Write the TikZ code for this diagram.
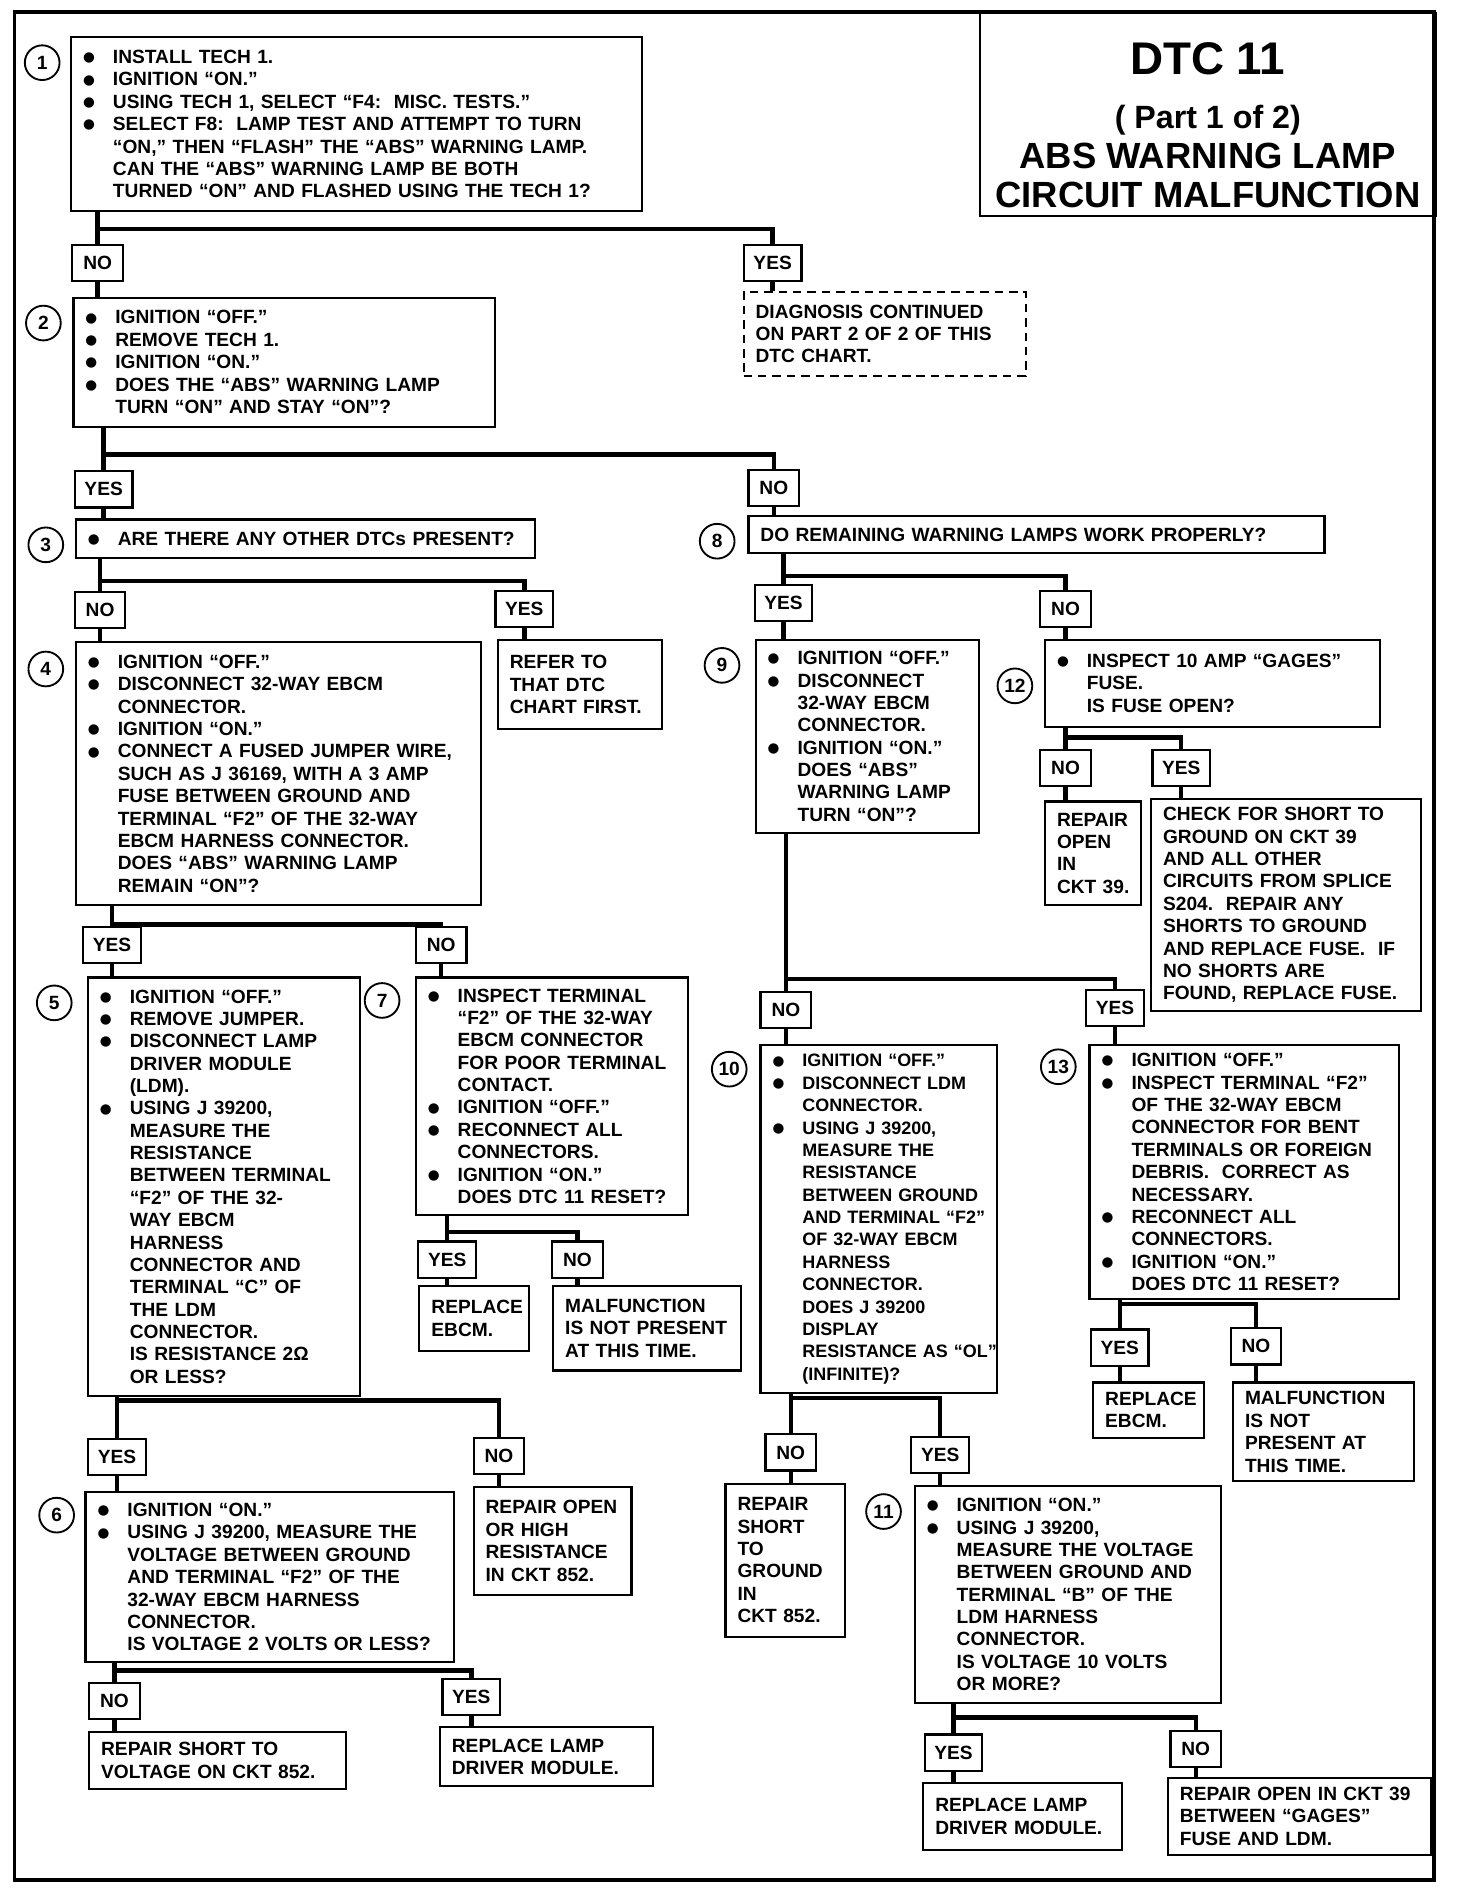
\documentclass[tikz,border=0pt]{standalone}
\usepackage{fontspec}
\setmainfont{Liberation Sans}
\newfontfamily\dotfont{DejaVu Sans}
\usetikzlibrary{calc}
\newcommand\bu{\makebox[0.62cm][l]{\raisebox{1.1pt}{\dotfont\fontsize{8}{8}\selectfont ●}}}
\newcommand\ind{\hspace*{0.62cm}}
\begin{document}
\begin{tikzpicture}[
  x=0.025cm, y=-0.025cm,
  every node/.style={font=\bfseries\fontsize{11.3}{13.2}\selectfont},
  stepbox/.code 2 args={%
    \pgfmathsetlengthmacro\boxtw{#1*0.025cm-0.5cm}%
    \pgfkeysalso{draw, line width=1.3pt, anchor=north west, align=left,
      inner xsep=0.25cm, inner ysep=0pt, minimum width=#1*0.025cm,
      minimum height=#2*0.025cm, text width=\boxtw,
      execute at begin node={\rightskip=-0.6cm plus 1fil\relax}}},
  contbox/.style={dash pattern=on 5pt off 3.5pt},
  answer/.style={draw, line width=1.3pt, minimum height=0.75cm,
    minimum width=1.05cm, inner xsep=0.2cm},
  num/.style={draw, circle, line width=1.1pt, minimum size=0.72cm, inner sep=0pt},
  link/.style={line width=2.6pt}
]
\useasboundingbox (0,0) rectangle (1221,1568);
\draw[line width=2.3pt] (12,10) rectangle (1190,1560);

\node[draw, line width=1.4pt, anchor=north west, minimum width=9.45cm,
  minimum height=4.2cm, inner sep=0pt, align=center,
  font=\bfseries\fontsize{21.5}{23.5}\selectfont] (title) at (812,10)
  {{\fontsize{27}{27}\selectfont\rule{0pt}{31.5pt}DTC 11}\\[8.4pt]
   {\fontsize{19}{20}\selectfont ( Part 1 of 2)}\\
   ABS WARNING LAMP\\
   CIRCUIT MALFUNCTION};

\node[stepbox={474}{144}] (s1) at (58,30)
  {\bu INSTALL TECH 1.\\
   \bu IGNITION “ON.”\\
   \bu USING TECH 1, SELECT “F4:~~MISC. TESTS.”\\
   \bu SELECT F8:~~LAMP TEST AND ATTEMPT TO TURN\\
   \ind “ON,” THEN “FLASH” THE “ABS” WARNING LAMP.\\
   \ind CAN THE “ABS” WARNING LAMP BE BOTH\\
   \ind TURNED “ON” AND FLASHED USING THE TECH 1?};
\node[stepbox={234}{70}, contbox] (d1) at (616,241)
  {DIAGNOSIS CONTINUED\\ ON PART 2 OF 2 OF THIS\\ DTC CHART.};
\node[stepbox={350}{107}] (s2) at (60,246)
  {\bu IGNITION “OFF.”\\
   \bu REMOVE TECH 1.\\
   \bu IGNITION “ON.”\\
   \bu DOES THE “ABS” WARNING LAMP\\
   \ind TURN “ON” AND STAY “ON”?};
\node[stepbox={381}{32}] (s3) at (62,430)
  {\bu ARE THERE ANY OTHER DTCs PRESENT?};
\node[stepbox={478}{31}] (s8) at (620,427)
  {DO REMAINING WARNING LAMPS WORK PROPERLY?};
\node[stepbox={336}{218}] (s4) at (62,532)
  {\bu IGNITION “OFF.”\\
   \bu DISCONNECT 32-WAY EBCM\\
   \ind CONNECTOR.\\
   \bu IGNITION “ON.”\\
   \bu CONNECT A FUSED JUMPER WIRE,\\
   \ind SUCH AS J 36169, WITH A 3 AMP\\
   \ind FUSE BETWEEN GROUND AND\\
   \ind TERMINAL “F2” OF THE 32-WAY\\
   \ind EBCM HARNESS CONNECTOR.\\
   \ind DOES “ABS” WARNING LAMP\\
   \ind REMAIN “ON”?};
\node[stepbox={136}{74}] (r3) at (412,530)
  {REFER TO\\ THAT DTC\\ CHART FIRST.};
\node[stepbox={185}{160}] (s9) at (626,530)
  {\bu IGNITION “OFF.”\\
   \bu DISCONNECT\\
   \ind 32-WAY EBCM\\
   \ind CONNECTOR.\\
   \bu IGNITION “ON.”\\
   \ind DOES “ABS”\\
   \ind WARNING LAMP\\
   \ind TURN “ON”?};
\node[stepbox={278}{72}] (s12) at (866,530)
  {\bu INSPECT 10 AMP “GAGES”\\
   \ind FUSE.\\
   \ind IS FUSE OPEN?};
\node[stepbox={80}{86}] (r12no) at (866,664)
  {REPAIR\\ OPEN\\ IN\\ CKT 39.};
\node[stepbox={224}{176}] (r12yes) at (954,662)
  {CHECK FOR SHORT TO\\ GROUND ON CKT 39\\ AND ALL OTHER\\
   CIRCUITS FROM SPLICE\\ S204.~~REPAIR ANY\\ SHORTS TO GROUND\\
   AND REPLACE FUSE.~~IF\\ NO SHORTS ARE\\ FOUND, REPLACE FUSE.};
\node[stepbox={226}{347}] (s5) at (72,810)
  {\bu IGNITION “OFF.”\\
   \bu REMOVE JUMPER.\\
   \bu DISCONNECT LAMP\\
   \ind DRIVER MODULE\\
   \ind (LDM).\\
   \bu USING J 39200,\\
   \ind MEASURE THE\\
   \ind RESISTANCE\\
   \ind BETWEEN TERMINAL\\
   \ind “F2” OF THE 32-\\
   \ind WAY EBCM\\
   \ind HARNESS\\
   \ind CONNECTOR AND\\
   \ind TERMINAL “C” OF\\
   \ind THE LDM\\
   \ind CONNECTOR.\\
   \ind IS RESISTANCE 2Ω\\
   \ind OR LESS?};
\node[stepbox={226}{197}] (s7) at (344,810)
  {\bu INSPECT TERMINAL\\
   \ind “F2” OF THE 32-WAY\\
   \ind EBCM CONNECTOR\\
   \ind FOR POOR TERMINAL\\
   \ind CONTACT.\\
   \bu IGNITION “OFF.”\\
   \bu RECONNECT ALL\\
   \ind CONNECTORS.\\
   \bu IGNITION “ON.”\\
   \ind DOES DTC 11 RESET?};
\node[stepbox={91}{54}] (r7yes) at (347,1066) {REPLACE\\ EBCM.};
\node[stepbox={156}{70}] (r7no) at (458,1066)
  {MALFUNCTION\\ IS NOT PRESENT\\ AT THIS TIME.};
\node[stepbox={196}{289}, font=\bfseries\fontsize{10.6}{13.2}\selectfont] (s10) at (630,866)
  {\bu IGNITION “OFF.”\\
   \bu DISCONNECT LDM\\
   \ind CONNECTOR.\\
   \bu USING J 39200,\\
   \ind MEASURE THE\\
   \ind RESISTANCE\\
   \ind BETWEEN GROUND\\
   \ind AND TERMINAL “F2”\\
   \ind OF 32-WAY EBCM\\
   \ind HARNESS\\
   \ind CONNECTOR.\\
   \ind DOES J 39200\\
   \ind DISPLAY\\
   \ind RESISTANCE AS “OL”\\
   \ind (INFINITE)?};
\node[stepbox={257}{211}] (s13) at (903,866)
  {\bu IGNITION “OFF.”\\
   \bu INSPECT TERMINAL “F2”\\
   \ind OF THE 32-WAY EBCM\\
   \ind CONNECTOR FOR BENT\\
   \ind TERMINALS OR FOREIGN\\
   \ind DEBRIS.~~CORRECT AS\\
   \ind NECESSARY.\\
   \bu RECONNECT ALL\\
   \ind CONNECTORS.\\
   \bu IGNITION “ON.”\\
   \ind DOES DTC 11 RESET?};
\node[stepbox={92}{46}] (r13yes) at (906,1146) {REPLACE\\ EBCM.};
\node[stepbox={150}{82}] (r13no) at (1022,1146)
  {MALFUNCTION\\ IS NOT\\ PRESENT AT\\ THIS TIME.};
\node[stepbox={306}{141}] (s6) at (70,1237)
  {\bu IGNITION “ON.”\\
   \bu USING J 39200, MEASURE THE\\
   \ind VOLTAGE BETWEEN GROUND\\
   \ind AND TERMINAL “F2” OF THE\\
   \ind 32-WAY EBCM HARNESS\\
   \ind CONNECTOR.\\
   \ind IS VOLTAGE 2 VOLTS OR LESS?};
\node[stepbox={131}{89}] (r5no) at (392,1233)
  {REPAIR OPEN\\ OR HIGH\\ RESISTANCE\\ IN CKT 852.};
\node[stepbox={213}{47}] (r6no) at (73,1436)
  {REPAIR SHORT TO\\ VOLTAGE ON CKT 852.};
\node[stepbox={177}{49}] (r6yes) at (364,1432)
  {REPLACE LAMP\\ DRIVER MODULE.};
\node[stepbox={99}{127}] (r10no) at (601,1230)
  {REPAIR\\ SHORT\\ TO\\ GROUND\\ IN\\ CKT 852.};
\node[stepbox={254}{180}] (s11) at (758,1232)
  {\bu IGNITION “ON.”\\
   \bu USING J 39200,\\
   \ind MEASURE THE VOLTAGE\\
   \ind BETWEEN GROUND AND\\
   \ind TERMINAL “B” OF THE\\
   \ind LDM HARNESS\\
   \ind CONNECTOR.\\
   \ind IS VOLTAGE 10 VOLTS\\
   \ind OR MORE?};
\node[stepbox={165}{56}] (r11yes) at (765,1478)
  {REPLACE LAMP\\ DRIVER MODULE.};
\node[stepbox={218}{64}] (r11no) at (968,1474)
  {REPAIR OPEN IN CKT 39\\ BETWEEN “GAGES”\\ FUSE AND LDM.};

\node[num] (c1) at ($(s1.north west)+(-23,22)$) {1};
\node[num] (c2) at ($(s2.north west)+(-24,22)$) {2};
\node[num] (c3) at ($(s3.north west)+(-24,22)$) {3};
\node[num] (c4) at ($(s4.north west)+(-24,23)$) {4};
\node[num] (c5) at ($(s5.north west)+(-27,22)$) {5};
\node[num] (c6) at ($(s6.north west)+(-23,20)$) {6};
\node[num] (c7) at ($(s7.north west)+(-27,20)$) {7};
\node[num] (c8) at ($(s8.north west)+(-25,22)$) {8};
\node[num] (c9) at ($(s9.north west)+(-27,22)$) {9};
\node[num] (c10) at ($(s10.north west)+(-25,21)$) {10};
\node[num] (c11) at ($(s11.north west)+(-25,22)$) {11};
\node[num] (c12) at ($(s12.north west)+(-24,39)$) {12};
\node[num] (c13) at ($(s13.north west)+(-25,19)$) {13};

\node[answer] (s1no) at (81,218) {NO};
\node[answer] (s1yes) at (641,218) {YES};
\node[answer] (s2yes) at (86,406) {YES};
\node[answer] (s2no) at (642,405) {NO};
\node[answer] (s3no) at (83,506) {NO};
\node[answer] (s3yes) at (435,505) {YES};
\node[answer] (s8yes) at (650,500) {YES};
\node[answer] (s8no) at (884,505) {NO};
\node[answer] (s4yes) at (93,784) {YES};
\node[answer] (s4no) at (366,784) {NO};
\node[answer] (s12no) at (884,637) {NO};
\node[answer] (s12yes) at (980,637) {YES};
\node[answer] (s9no) at (652,838) {NO};
\node[answer] (s9yes) at (925,836) {YES};
\node[answer] (s7yes) at (371,1045) {YES};
\node[answer] (s7no) at (479,1045) {NO};
\node[answer] (s13yes) at (929,1118) {YES};
\node[answer] (s13no) at (1042,1117) {NO};
\node[answer] (s5yes) at (97,1209) {YES};
\node[answer] (s5no) at (414,1208) {NO};
\node[answer] (s10no) at (656,1205) {NO};
\node[answer] (s10yes) at (780,1207) {YES};
\node[answer] (s6no) at (95,1411) {NO};
\node[answer] (s6yes) at (391,1408) {YES};
\node[answer] (s11yes) at (791,1454) {YES};
\node[answer] (s11no) at (992,1451) {NO};

\coordinate (j1) at (0,190);
\coordinate (j2) at (0,377);
\coordinate (j3) at (0,482);
\coordinate (j8) at (0,478);
\coordinate (j4) at (0,767);
\coordinate (j12) at (0,612);
\coordinate (j9) at (0,812);
\coordinate (j7) at (0,1022);
\coordinate (j13) at (0,1082);
\coordinate (j5) at (0,1162);
\coordinate (j10) at (0,1160);
\coordinate (j6) at (0,1386);
\coordinate (j11) at (0,1425);

\draw[link] (s1.south -| s1no) -- (s1no.north);
\draw[link] (s1no |- j1) -| (s1yes.north);
\draw[link] (s1no.south) -- (s1no.south |- s2.north);
\draw[link] (s1yes.south) -- (s1yes.south |- d1.north);

\draw[link] (s2.south -| s2yes) -- (s2yes.north);
\draw[link] (s2yes |- j2) -| (s2no.north);
\draw[link] (s2yes.south) -- (s2yes.south |- s3.north);
\draw[link] (s2no.south) -- (s2no.south |- s8.north);

\draw[link] (s3.south -| s3no) -- (s3no.north);
\draw[link] (s3no |- j3) -| (s3yes.north);
\draw[link] (s3no.south) -- (s3no.south |- s4.north);
\draw[link] (s3yes.south) -- (s3yes.south |- r3.north);

\draw[link] (s8.south -| s8yes) -- (s8yes.north);
\draw[link] (s8yes |- j8) -| (s8no.north);
\draw[link] (s8yes.south) -- (s8yes.south |- s9.north);
\draw[link] (s8no.south) -- (s8no.south |- s12.north);

\draw[link] (s4.south -| s4yes) -- (s4yes.north);
\draw[link] (s4yes |- j4) -| (s4no.north);
\draw[link] (s4yes.south) -- (s4yes.south |- s5.north);
\draw[link] (s4no.south) -- (s4no.south |- s7.north);

\draw[link] (s12.south -| s12no) -- (s12no.north);
\draw[link] (s12no |- j12) -| (s12yes.north);
\draw[link] (s12no.south) -- (s12no.south |- r12no.north);
\draw[link] (s12yes.south) -- (s12yes.south |- r12yes.north);

\draw[link] (s9.south -| s9no) -- (s9no.north);
\draw[link] (s9no |- j9) -| (s9yes.north);
\draw[link] (s9no.south) -- (s9no.south |- s10.north);
\draw[link] (s9yes.south) -- (s9yes.south |- s13.north);

\draw[link] (s7.south -| s7yes) -- (s7yes.north);
\draw[link] (s7yes |- j7) -| (s7no.north);
\draw[link] (s7yes.south) -- (s7yes.south |- r7yes.north);
\draw[link] (s7no.south) -- (s7no.south |- r7no.north);

\draw[link] (s13.south -| s13yes) -- (s13yes.north);
\draw[link] (s13yes |- j13) -| (s13no.north);
\draw[link] (s13yes.south) -- (s13yes.south |- r13yes.north);
\draw[link] (s13no.south) -- (s13no.south |- r13no.north);

\draw[link] (s5.south -| s5yes) -- (s5yes.north);
\draw[link] (s5yes |- j5) -| (s5no.north);
\draw[link] (s5yes.south) -- (s5yes.south |- s6.north);
\draw[link] (s5no.south) -- (s5no.south |- r5no.north);

\draw[link] (s10.south -| s10no) -- (s10no.north);
\draw[link] (s10no |- j10) -| (s10yes.north);
\draw[link] (s10no.south) -- (s10no.south |- r10no.north);
\draw[link] (s10yes.south) -- (s10yes.south |- s11.north);

\draw[link] (s6.south -| s6no) -- (s6no.north);
\draw[link] (s6no |- j6) -| (s6yes.north);
\draw[link] (s6no.south) -- (s6no.south |- r6no.north);
\draw[link] (s6yes.south) -- (s6yes.south |- r6yes.north);

\draw[link] (s11.south -| s11yes) -- (s11yes.north);
\draw[link] (s11yes |- j11) -| (s11no.north);
\draw[link] (s11yes.south) -- (s11yes.south |- r11yes.north);
\draw[link] (s11no.south) -- (s11no.south |- r11no.north);
\end{tikzpicture}
\end{document}
